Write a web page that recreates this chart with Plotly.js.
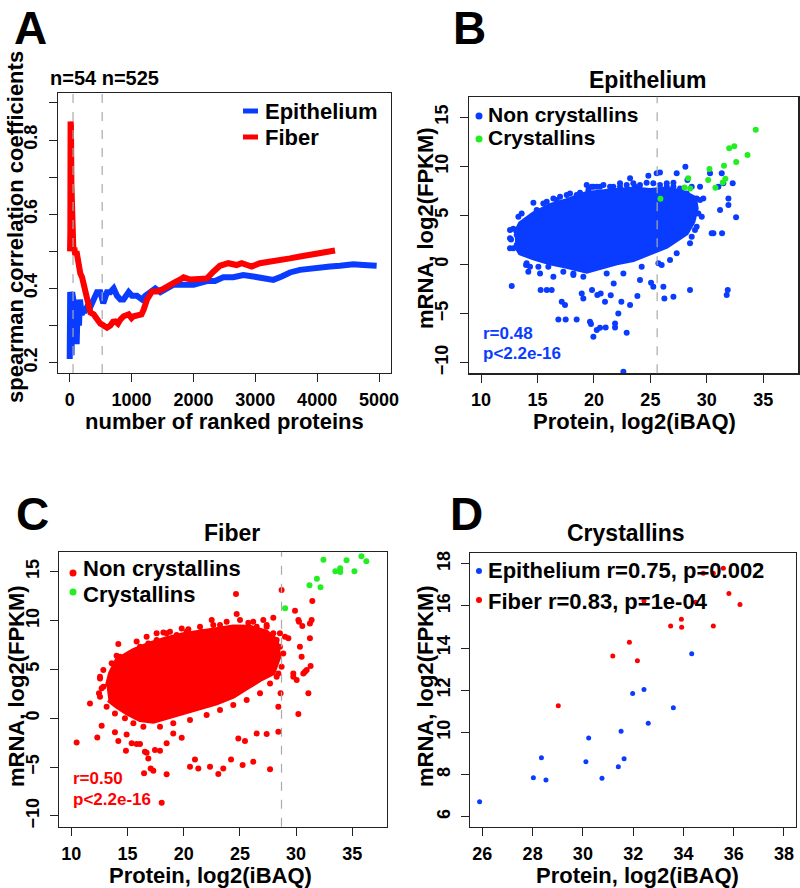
<!DOCTYPE html>
<html>
<head>
<meta charset="utf-8">
<script src="https://cdn.plot.ly/plotly-3.0.1.min.js"></script>
<style>
  html, body { margin: 0; padding: 0; background: #fff; }
  #fig { width: 800px; height: 888px; }
</style>
</head>
<body>
<div id="fig"></div>
<script>
// ---- panel A: running spearman correlation vs number of ranked proteins
const epiRankX = [0, 8, 15, 22, 30, 40, 48, 58, 70, 85, 100, 113, 130, 150, 166, 193, 226, 247, 280, 334, 388, 441, 495, 543, 603, 657, 711, 765, 819, 870, 953, 1007, 1088, 1169, 1223, 1303, 1384, 1465, 1573, 1681, 1788, 1896, 2004, 2112, 2220, 2349, 2483, 2645, 2807, 2969, 3130, 3292, 3427, 3561, 3723, 3885, 4046, 4208, 4369, 4585, 4747, 4962];
const epiRankY = [0.21, 0.39, 0.23, 0.38, 0.22, 0.39, 0.24, 0.37, 0.26, 0.36, 0.28, 0.25, 0.37, 0.30, 0.37, 0.33, 0.34, 0.34, 0.35, 0.35, 0.37, 0.39, 0.39, 0.36, 0.39, 0.39, 0.40, 0.38, 0.37, 0.37, 0.39, 0.38, 0.38, 0.37, 0.38, 0.39, 0.40, 0.39, 0.40, 0.41, 0.41, 0.41, 0.41, 0.415, 0.42, 0.42, 0.43, 0.43, 0.436, 0.432, 0.429, 0.423, 0.432, 0.443, 0.45, 0.454, 0.459, 0.459, 0.461, 0.465, 0.463, 0.461];
const fibRankX = [5, 10, 14, 20, 28, 36, 45, 60, 75, 90, 110, 130, 150, 172, 200, 226, 253, 280, 307, 334, 388, 441, 495, 522, 560, 603, 657, 700, 738, 780, 819, 872, 953, 1000, 1034, 1115, 1160, 1196, 1250, 1330, 1411, 1492, 1573, 1681, 1788, 1842, 1950, 2058, 2166, 2220, 2322, 2429, 2564, 2699, 2780, 2942, 3076, 3238, 3400, 3561, 3723, 3885, 4046, 4181, 4289];
const fibRankY = [0.50, 0.55, 0.85, 0.84, 0.68, 0.55, 0.51, 0.50, 0.51, 0.49, 0.50, 0.47, 0.47, 0.44, 0.43, 0.41, 0.38, 0.36, 0.34, 0.335, 0.33, 0.316, 0.305, 0.303, 0.30, 0.294, 0.30, 0.31, 0.311, 0.305, 0.316, 0.325, 0.33, 0.32, 0.325, 0.33, 0.33, 0.343, 0.370, 0.392, 0.392, 0.397, 0.406, 0.415, 0.424, 0.430, 0.424, 0.424, 0.427, 0.427, 0.445, 0.461, 0.468, 0.463, 0.468, 0.459, 0.468, 0.471, 0.475, 0.481, 0.486, 0.49, 0.497, 0.499, 0.502];
const rankCutoffs = [54, 525];

// ---- panel B: epithelium, outline of the saturated core + the points around it
const epiCoreX = [13.01, 13.45, 14.64, 16.11, 17.59, 19.36, 22.02, 23.49, 24.97, 26.45, 27.92, 28.95, 29.10, 28.81, 28.22, 26.45, 24.97, 23.49, 22.02, 20.54, 19.36, 17.59, 16.11, 14.64, 13.45, 13.01];
const epiCoreY = [3.18, 4.19, 5.21, 6.06, 6.57, 7.30, 7.60, 7.75, 7.60, 7.75, 7.40, 6.80, 5.72, 4.36, 3.18, 1.82, 1.14, 0.46, 0.12, -0.39, -0.73, -0.22, 0.12, 0.63, 1.14, 1.99];
const epiX = [12.57, 12.57, 12.86, 12.72, 13.16, 13.75, 14.04, 13.99, 14.19, 14.64, 14.78, 15.23, 15.28, 15.82, 16.26, 16.41, 17.15, 17.44, 18.18, 16.85, 17.50, 18.47, 19.65, 19.74, 19.95, 20.25, 20.54, 21.04, 21.87, 21.87, 22.16, 22.90, 22.61,
  18.92, 19.06, 19.83, 20.30, 20.60, 20.98, 21.49, 21.75, 22.43, 23.20, 23.85, 24.08, 25.06, 25.26, 26.00, 26.15, 26.24, 27.04, 28.51, 31.85, 31.76,
  24.82, 25.56, 25.85, 27.33, 28.10, 28.28, 28.66, 28.81, 28.95, 29.10, 29.40, 29.55, 29.69, 30.28, 30.43, 30.58, 31.02, 31.17, 31.35, 31.32, 31.46, 31.91, 31.91, 32.29, 32.59,
  19.51, 19.95, 20.54, 21.13, 22.31, 23.20, 23.64, 24.08, 24.67, 25.26, 26.45, 27.04,
  12.57, 12.66, 12.86, 13.16, 13.31, 13.60, 13.81, 14.04, 14.34, 14.49, 14.93, 15.08, 15.52, 15.82, 15.96, 16.41, 16.70, 17.00, 17.29, 17.59, 17.88, 18.18, 18.47, 18.77, 19.06, 19.36, 19.80, 20.25, 20.84, 21.13, 21.43, 21.72, 22.31, 22.61, 22.90, 23.49, 24.08, 24.23, 24.67, 25.26, 25.71, 25.85, 26.45, 26.74, 27.04, 27.33, 27.63, 28.22, 28.51, 28.81, 29.25, 29.40, 29.10, 28.66];
const epiY = [2.67, 1.65, 3.65, -2.19, 1.99, 3.41, 1.65, -0.05, -0.73, 6.30, 0.80, -0.90, -2.60, -2.60, -2.60, -1.24, -3.79, -4.13, -1.07, -5.59, -5.59, -5.59, -5.83, -6.07, -7.36, -6.68, -6.44, -6.41, -6.00, -6.41, -4.98, -6.95, -10.93,
  -2.94, -3.45, -2.60, -3.11, -2.94, -3.79, -3.14, -1.92, -3.79, -4.13, -3.21, -1.58, -1.85, -2.26, -0.05, -2.26, -3.45, -3.28, -2.60, -2.60, -3.11,
  9.05, 9.29, 9.39, 9.29, 9.97, 8.61, 7.93, 5.21, 3.52, 6.74, 7.93, 4.87, 6.74, 9.29, 3.18, 3.18, 7.93, 5.55, 3.18, 9.29, 8.27, 6.74, 6.06, 8.27, 4.81,
  7.59, 7.93, 7.93, 7.42, 7.93, 8.78, 7.93, 7.59, 7.25, 7.42, 7.93, 8.34,
  3.52, 2.56, 1.65, 3.01, 4.87, 5.21, 3.85, 0.12, -0.22, 4.87, 5.55, -0.22, 6.23, 6.40, -0.22, 6.74, 6.57, 6.91, -0.73, 7.08, 7.25, -0.90, 7.08, 7.32, -1.24, 8.10, 7.93, 7.93, 8.10, -0.90, 7.93, 7.93, 8.27, -0.90, 8.10, 8.27, 8.10, -0.22, 8.34, 8.27, 0.12, 8.10, 8.27, 0.46, 7.93, 1.14, 7.76, 7.25, 2.16, 6.23, 5.21, 6.57, 3.85, 2.84];

// ---- panel C: fiber
const fibCoreX = [13.14, 13.44, 14.03, 15.52, 17.00, 18.48, 19.96, 21.45, 22.93, 24.41, 25.90, 27.38, 28.27, 28.51, 27.97, 26.79, 25.60, 24.41, 22.93, 21.45, 19.96, 18.48, 17.30, 16.11, 14.92, 14.03, 13.29];
const fibCoreY = [3.23, 4.59, 5.96, 6.98, 7.66, 8.20, 8.60, 8.90, 9.20, 9.40, 9.37, 8.86, 8.01, 6.30, 4.59, 3.91, 3.06, 2.21, 1.52, 1.01, 0.50, -0.01, -0.35, -0.18, 0.50, 1.18, 1.86];
const fibX = [10.47, 11.66, 12.31, 12.46, 12.70, 12.55, 12.85, 13.88, 14.18, 14.86, 14.92, 15.37, 15.81, 16.11, 16.47, 16.55, 16.70, 16.85, 17.06, 17.30, 17.44, 17.89, 18.48, 18.04, 18.48, 19.07, 19.82, 20.56, 21.00, 21.30, 22.34, 23.08, 23.52, 24.21, 24.86, 25.24, 25.45, 26.19, 26.49, 27.38, 27.68, 28.42,
  14.03, 14.18, 15.81, 16.70, 17.59, 18.19, 18.78, 19.82, 20.41, 21.60, 22.49, 23.23, 24.12, 24.65, 24.71, 25.75, 26.49, 27.08, 27.97, 28.71,
  28.27, 28.42, 28.42, 28.62, 28.86, 29.01, 29.90, 29.31, 29.75, 30.20, 30.26, 30.34, 30.49, 30.55, 30.79, 30.94, 31.09, 31.23, 31.38, 31.44, 31.23, 31.29, 30.20, 30.64, 30.05, 29.75, 28.56, 27.38, 26.19,
  12.55, 12.70, 12.85, 12.55, 13.14, 13.59, 13.88, 14.33, 14.77, 15.22, 15.52, 16.11, 16.41, 16.85, 17.59, 17.89, 18.48, 19.07, 19.37, 20.26, 20.56, 21.45, 22.04, 22.63, 23.23, 23.82, 24.41, 25.01, 25.60, 26.19, 26.79, 27.38, 27.68, 27.97, 28.56, 28.71, 28.27];
const fibY = [-2.47, 1.52, -1.96, 2.55, -0.76, 4.25, 3.23, -1.44, -2.33, -3.32, -1.65, -2.57, -2.64, -2.64, -5.64, -3.42, -3.53, -4.11, -5.13, -5.37, -3.25, -3.32, -5.74, -8.64, -2.57, -1.55, -1.99, -4.96, -4.21, -5.13, -4.96, -5.71, -5.13, -4.21, -2.06, -4.79, -2.33, -4.45, -1.55, -1.62, -5.23, -1.38,
  6.40, 7.60, 7.87, 8.35, 8.69, 8.79, 8.86, 9.20, 9.10, 8.86, 10.05, 9.54, 9.20, 12.71, 10.67, 9.78, 9.37, 10.05, 10.29, 13.12,
  8.01, 4.59, 1.18, 2.55, 6.64, 8.35, 11.01, 8.18, 4.25, 10.05, 9.88, 7.32, 6.30, 9.44, 4.76, 4.94, 2.55, 9.71, 10.05, 12.00, 8.18, 5.34, 0.43, 4.59, 3.91, 4.59, 8.69, 9.37, 8.01,
  4.08, 3.06, 4.94, 2.21, 1.18, 5.62, 0.50, 6.30, -0.01, 6.64, -0.52, 7.32, -0.86, 7.66, 8.01, -0.86, 8.69, -0.52, 8.52, 8.86, -0.18, 9.37, 0.33, 9.54, 0.84, 9.88, 1.35, 10.05, 1.86, 9.88, 2.55, 9.54, 3.57, 8.69, 7.32, 5.28, 4.25];
const iBAQcutoffs = [25.6, 28.7];

// ---- crystallins (panels B/C green, panel D)
const epiCrysX = [25.89, 28.03, 28.35, 28.53, 30.12, 30.23, 30.76, 31.41, 31.52, 31.64, 31.98, 32.43, 32.60, 33.60, 34.33];
const epiCrysY = [6.71, 7.85, 8.80, 7.74, 8.61, 9.73, 7.83, 8.37, 10.06, 8.75, 11.85, 12.04, 10.44, 11.17, 13.73];
const fibCrysX = [29.02, 31.19, 31.85, 32.17, 32.43, 33.49, 33.92, 33.93, 34.49, 35.19, 34.79, 35.19, 35.59, 35.81, 36.25];
const fibCrysY = [11.27, 13.62, 14.27, 13.40, 16.23, 15.04, 15.36, 14.98, 16.17, 15.04, 17.54, 17.54, 17.78, 16.58, 16.07];

const BLUE = '#0a3cff', RED = '#ff0000', GREEN = '#22ee22';
const FONT = 'Liberation Sans, Arial, sans-serif';
const W = 800, H = 888;
const px = x => x / W;
const py = y => 1 - y / H;

const traces = [
  { x: epiRankX, y: epiRankY, mode: 'lines', line: { color: BLUE, width: 6 }, xaxis: 'x', yaxis: 'y' },
  { x: fibRankX, y: fibRankY, mode: 'lines', line: { color: RED, width: 6 }, xaxis: 'x', yaxis: 'y' },

  { x: epiCoreX, y: epiCoreY, mode: 'lines', fill: 'toself', fillcolor: BLUE, line: { color: BLUE, width: 4 }, xaxis: 'x2', yaxis: 'y2' },
  { x: epiX, y: epiY, mode: 'markers', marker: { color: BLUE, size: 6 }, xaxis: 'x2', yaxis: 'y2' },
  { x: epiCrysX, y: epiCrysY, mode: 'markers', marker: { color: GREEN, size: 6 }, xaxis: 'x2', yaxis: 'y2' },

  { x: fibCoreX, y: fibCoreY, mode: 'lines', fill: 'toself', fillcolor: RED, line: { color: RED, width: 4 }, xaxis: 'x3', yaxis: 'y3' },
  { x: fibX, y: fibY, mode: 'markers', marker: { color: RED, size: 6 }, xaxis: 'x3', yaxis: 'y3' },
  { x: fibCrysX, y: fibCrysY, mode: 'markers', marker: { color: GREEN, size: 6 }, xaxis: 'x3', yaxis: 'y3' },

  { x: epiCrysX, y: epiCrysY, mode: 'markers', marker: { color: BLUE, size: 5 }, xaxis: 'x4', yaxis: 'y4' },
  { x: fibCrysX, y: fibCrysY, mode: 'markers', marker: { color: RED, size: 5 }, xaxis: 'x4', yaxis: 'y4' }
];
traces.forEach(t => { t.showlegend = false; t.hoverinfo = 'skip'; });

function axis(domain, range, tickvals, ticktext, isY) {
  return {
    domain: domain.map(isY ? py : px).sort((a, b) => a - b),
    range: range, tickvals: tickvals, ticktext: ticktext,
    showgrid: false, zeroline: false, showline: true, mirror: true,
    linecolor: '#222', linewidth: 1.2, ticks: 'outside', ticklen: 8, tickcolor: '#222',
    tickangle: isY ? -90 : 0, ticklabelstandoff: isY ? 4 : 2,
    tickfont: { family: FONT, size: 18, weight: 'bold', color: '#000' }
  };
}
const seq = (a, b, s) => { const r = []; for (let v = a; v <= b + 1e-9; v += s) r.push(+v.toFixed(2)); return r; };
const aY = seq(0.2, 0.9, 0.1);
const aYtext = aY.map((v, i) => i % 2 === 0 ? v.toFixed(1) : '');
const bcX = seq(10, 35, 5), bcY = seq(-10, 15, 5);
const dX = seq(26, 38, 2), dY = seq(6, 18, 2);
const minus = v => String(v).replace('-', '\u2212');

const layout = {
  width: W, height: H, margin: { l: 0, r: 0, t: 0, b: 0 },
  paper_bgcolor: '#fff', plot_bgcolor: '#fff',
  xaxis: Object.assign(axis([57.7, 391], [-194, 5194], seq(0, 5000, 1000), seq(0, 5000, 1000).map(String), false), { anchor: 'y' }),
  yaxis: Object.assign(axis([373, 93.3], [0.172, 0.926], aY, aYtext, true), { anchor: 'x' }),
  xaxis2: Object.assign(axis([468.7, 798.3], [8.91, 38.1], bcX, bcX.map(String), false), { anchor: 'y2' }),
  yaxis2: Object.assign(axis([373.3, 96.7], [-11.08, 17.1], bcY, bcY.map(minus), true), { anchor: 'x2' }),
  xaxis3: Object.assign(axis([59.3, 386.7], [8.93, 38.06], bcX, bcX.map(String), false), { anchor: 'y3' }),
  yaxis3: Object.assign(axis([826.7, 551.7], [-11.1, 17.05], bcY, bcY.map(minus), true), { anchor: 'x3' }),
  xaxis4: Object.assign(axis([470.3, 796], [25.52, 38.48], dX, dX.map(String), false), { anchor: 'y4' }),
  yaxis4: Object.assign(axis([826.7, 552.7], [5.53, 18.52], dY, dY.map(String), true), { anchor: 'x4' }),
  shapes: [], annotations: []
};

// grey dashed cut-off lines
const dashed = { color: '#aaa', width: 1.2, dash: 'dash' };
rankCutoffs.forEach(v => layout.shapes.push({ type: 'line', xref: 'x', yref: 'y domain', x0: v, x1: v, y0: 0, y1: 1, line: dashed }));
layout.shapes.push({ type: 'line', xref: 'x2', yref: 'y2 domain', x0: iBAQcutoffs[0], x1: iBAQcutoffs[0], y0: 0, y1: 1, line: dashed });
layout.shapes.push({ type: 'line', xref: 'x3', yref: 'y3 domain', x0: iBAQcutoffs[1], x1: iBAQcutoffs[1], y0: 0, y1: 1, line: dashed });

function font(size, color) { return { family: FONT, size: size, weight: 'bold', color: color || '#000' }; }
function text(str, x, y, opts) {
  layout.annotations.push(Object.assign({
    text: str, xref: 'paper', yref: 'paper', x: px(x), y: py(y), showarrow: false,
    xanchor: 'center', yanchor: 'middle', font: font(22)
  }, opts || {}));
}

// panel letters
text('A', 30, 0, { yanchor: 'top', font: font(46) });
text('B', 469, 0, { yanchor: 'top', font: font(46) });
text('C', 32, 486, { yanchor: 'top', font: font(46) });
text('D', 466, 486, { yanchor: 'top', font: font(46) });

// titles
text('n=54 n=525', 48, 78, { xanchor: 'left', font: font(20) });
text('Epithelium', 648, 80, { font: font(23) });
text('Fiber', 232, 533, { font: font(23) });
text('Crystallins', 626, 533, { font: font(23) });

// axis titles
text('number of ranked proteins', 224, 421);
text('Protein, log2(iBAQ)', 634, 421);
text('Protein, log2(iBAQ)', 210, 875);
text('Protein, log2(iBAQ)', 637, 875);
text('spearman correlation coefficients', 15, 227, { textangle: -90 });
text('mRNA, log2(FPKM)', 425, 228, { textangle: -90 });
text('mRNA, log2(FPKM)', 16, 686, { textangle: -90 });
text('mRNA, log2(FPKM)', 425, 686, { textangle: -90 });

// legends
const legA = [['Epithelium', BLUE, 111], ['Fiber', RED, 137]];
legA.forEach(([name, col, y]) => {
  layout.shapes.push({ type: 'line', xref: 'paper', yref: 'paper', x0: px(243), x1: px(258), y0: py(y), y1: py(y), line: { color: col, width: 5 } });
  text(name, 263, y, { xanchor: 'left', font: font(22) });
});
function dotLegend(items, dotX, textX, size) {
  items.forEach(([name, col, yDot, yText, r]) => {
    layout.shapes.push({ type: 'circle', xref: 'paper', yref: 'paper', xsizemode: 'pixel', ysizemode: 'pixel',
      xanchor: px(dotX), yanchor: py(yDot), x0: -r, x1: r, y0: -r, y1: r, fillcolor: col, line: { width: 0 } });
    text(name, textX, yText, { xanchor: 'left', font: font(size) });
  });
}
dotLegend([['Non crystallins', BLUE, 116, 115, 3.5], ['Crystallins', GREEN, 139, 138, 3.5]], 479, 486, 21);
dotLegend([['Non crystallins', RED, 573, 568, 3.5], ['Crystallins', GREEN, 592, 594, 3.5]], 73, 81, 22);
dotLegend([['Epithelium r=0.75, p=0.002', BLUE, 571, 570, 3], ['Fiber r=0.83, p=1e-04', RED, 600, 601, 3]], 479, 486, 22);

// correlation stats
text('r=0.48', 481, 333, { xanchor: 'left', font: font(17, BLUE) });
text('p<2.2e-16', 481, 353, { xanchor: 'left', font: font(17, BLUE) });
text('r=0.50', 71, 778, { xanchor: 'left', font: font(17, RED) });
text('p<2.2e-16', 71, 799, { xanchor: 'left', font: font(17, RED) });

Plotly.newPlot('fig', traces, layout, { staticPlot: true, displayModeBar: false });
</script>
</body>
</html>
